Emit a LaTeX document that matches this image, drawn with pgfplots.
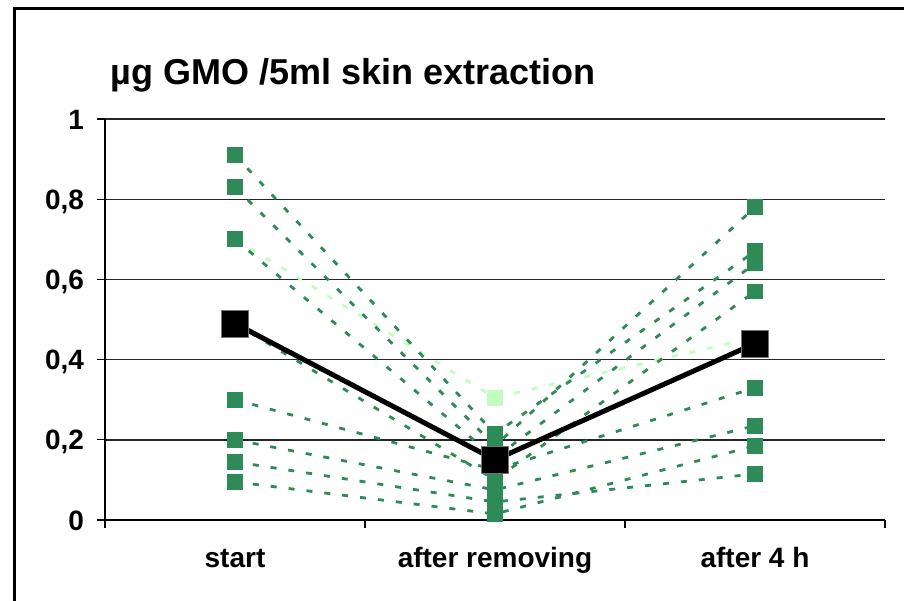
\documentclass[border=0pt]{standalone}
\usepackage{pgfplots}
\pgfplotsset{compat=1.18}
\usepackage{fontspec}
\setmainfont{Liberation Sans}
\definecolor{dg}{RGB}{46,139,87}
\definecolor{lg}{RGB}{192,255,192}
\begin{document}
\begin{tikzpicture}
\begin{axis}[
  at={(52.5pt,40pt)}, anchor=south west,
  scale only axis, width=390pt, height=200.5pt,
  xmin=0, xmax=3, ymin=0, ymax=1,
  clip=false,
  axis x line=bottom, axis y line=left,
  axis line style={-, black, line width=0.7pt},
  xtick={0,1,2,3}, xticklabels={},
  extra x ticks={0.5,1.5,2.5},
  extra x tick labels={start, after removing, after 4 h},
  extra x tick style={major tick length=0pt},
  ytick={0,0.2,0.4,0.6,0.8,1},
  ymajorgrids, grid style={black!85, line width=0.7pt},
  tick align=outside, major tick length=4pt,
  tick style={black, line width=0.6pt},
  /pgf/number format/assume math mode=true,
  yticklabel={\pgfmathprintnumber[fixed, use comma, precision=1]{\tick}},
  ticklabel style={font=\bfseries\fontsize{14}{16}\selectfont},
  xticklabel style={anchor=base, yshift=-23.5pt},
  yticklabel style={anchor=base east, yshift=-5pt, xshift=-3pt},
  gs/.style={dg, line width=1.4pt, dash pattern=on 3pt off 6pt, mark=square*, mark size=3.25pt, mark options={solid, fill=dg, draw=none}},
]
% light green series (drawn first)
\addplot[lg, line width=1.4pt, dash pattern=on 3pt off 6pt, mark=square*, mark size=3.25pt, mark options={solid, fill=lg, draw=none}]
  coordinates {(0.5,0.70) (1.5,0.305) (2.5,0.455)};
% dark green series
\addplot[gs] coordinates {(0.5,0.91) (1.5,0.215) (2.5,0.67)};
\addplot[gs] coordinates {(0.5,0.83) (1.5,0.185) (2.5,0.78)};
\addplot[gs] coordinates {(0.5,0.70) (1.5,0.155) (2.5,0.64)};
\addplot[gs] coordinates {(0.5,0.49) (1.5,0.10) (2.5,0.57)};
\addplot[gs] coordinates {(0.5,0.30) (1.5,0.125) (2.5,0.33)};
\addplot[gs] coordinates {(0.5,0.20) (1.5,0.075) (2.5,0.235)};
\addplot[gs] coordinates {(0.5,0.145) (1.5,0.045) (2.5,0.115)};
\addplot[gs] coordinates {(0.5,0.095) (1.5,0.015) (2.5,0.185)};
% mean
\addplot[black, line width=2.5pt, mark=square*, mark size=6.75pt, mark options={fill=black, draw=black!55, line width=0.5pt}]
  coordinates {(0.5,0.49) (1.5,0.15) (2.5,0.44)};
\node[anchor=base west, inner sep=0pt, xshift=2.5pt, yshift=17.5pt, font=\bfseries\fontsize{18}{20}\selectfont]
  at (rel axis cs:0,1) {µg GMO /5ml skin extraction};
\end{axis}
\draw[line width=1.7pt] (7.25pt,-5pt) -- (7.25pt,295.75pt) -- (460pt,295.75pt);
\pgfresetboundingbox
\useasboundingbox (0,0) rectangle (452pt,300pt);
\end{tikzpicture}
\end{document}
